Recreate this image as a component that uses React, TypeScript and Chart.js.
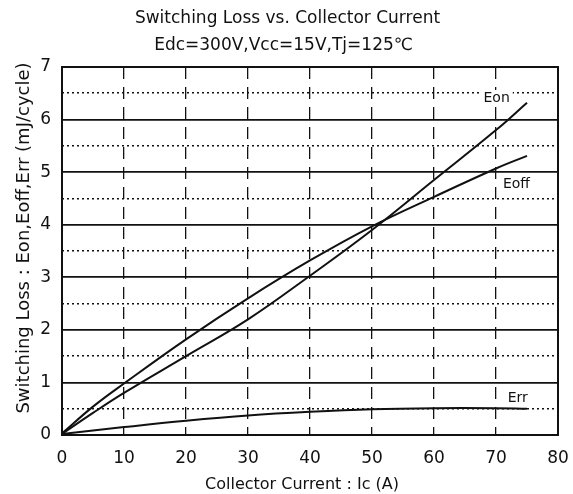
import { useEffect, useRef } from "react";
import { Chart, registerables } from "chart.js";

Chart.register(...registerables);

// ---- data ----
const currentA = [0, 5, 10, 20, 30, 40, 50, 60, 70, 75];
const eonValues = [0.02, 0.42, 0.8, 1.5, 2.2, 3.03, 3.9, 4.85, 5.8, 6.32];
const eoffValues = [0.03, 0.54, 0.98, 1.82, 2.6, 3.32, 3.97, 4.53, 5.07, 5.31];
const errCurrentA = [0, 10, 20, 30, 40, 50, 60, 70, 75];
const errValues = [0.02, 0.15, 0.27, 0.37, 0.44, 0.49, 0.51, 0.51, 0.5];

const xTickValues = [0, 10, 20, 30, 40, 50, 60, 70, 80];
const yTickValues = [0, 1, 2, 3, 4, 5, 6, 7];

const titleLines = ["Switching Loss vs. Collector Current", "Edc=300V,Vcc=15V,Tj=125\u2103"];
const xTitle = "Collector Current : Ic (A)";
const yTitle = "Switching Loss : Eon,Eoff,Err (mJ/cycle)";

const curveNames = ["Eon", "Eoff", "Err"];
const curveLabelAt = [
  { x: 70.1, y: 6.41 },
  { x: 73.3, y: 4.76 },
  { x: 73.5, y: 0.7 },
];

const FONT = '"DejaVu Sans", sans-serif';
const INK = "#111111";

const toPoints = (xs: number[], ys: number[]) => xs.map((x, i) => ({ x, y: ys[i] }));

const overlayPlugin = {
  id: "overlay",
  afterDatasetsDraw(chart: any) {
    const { ctx, chartArea: a, scales } = chart;
    ctx.save();
    // frame
    ctx.strokeStyle = INK;
    ctx.lineWidth = 2;
    ctx.setLineDash([]);
    ctx.strokeRect(a.left, a.top, a.right - a.left, a.bottom - a.top);
    // curve labels
    ctx.font = `14px ${FONT}`;
    ctx.textAlign = "center";
    ctx.textBaseline = "middle";
    curveNames.forEach((name, i) => {
      const px = scales.x.getPixelForValue(curveLabelAt[i].x);
      const py = scales.y.getPixelForValue(curveLabelAt[i].y);
      const w = ctx.measureText(name).width;
      ctx.fillStyle = "#ffffff";
      ctx.fillRect(px - w / 2 - 3, py - 8, w + 6, 16);
      ctx.fillStyle = INK;
      ctx.fillText(name, px, py);
    });
    // titles
    ctx.font = `17px ${FONT}`;
    ctx.fillText(titleLines[0], chart.width / 2 + 1, 19);
    ctx.fillText(titleLines[1], chart.width / 2 - 3, 46);
    ctx.font = `16px ${FONT}`;
    ctx.fillText(xTitle, 302, 485);
    ctx.save();
    ctx.translate(24, 238);
    ctx.rotate(-Math.PI / 2);
    ctx.font = `18px ${FONT}`;
    ctx.fillText(yTitle, 0, 0);
    ctx.restore();
    ctx.restore();
  },
};

export default function App() {
  const canvasRef = useRef<HTMLCanvasElement | null>(null);

  useEffect(() => {
    document.body.style.margin = "0";
    const canvas = canvasRef.current;
    if (!canvas) return;
    const lineStyle = {
      borderColor: INK,
      borderWidth: 2,
      pointRadius: 0,
      fill: false,
      tension: 0.4,
    };
    const chart = new Chart(canvas, {
      type: "line",
      data: {
        datasets: [
          { label: curveNames[0], data: toPoints(currentA, eonValues), ...lineStyle },
          { label: curveNames[1], data: toPoints(currentA, eoffValues), ...lineStyle },
          { label: curveNames[2], data: toPoints(errCurrentA, errValues), ...lineStyle },
        ],
      },
      options: {
        animation: false,
        responsive: false,
        layout: { padding: { left: 0, top: 67, right: 15, bottom: 0 } },
        plugins: { legend: { display: false }, tooltip: { enabled: false }, title: { display: false } },
        scales: {
          x: {
            type: "linear",
            min: 0,
            max: 80,
            afterFit: (s: any) => {
              s.height = 59;
              s.paddingLeft = 0;
              s.paddingRight = 0;
            },
            afterBuildTicks: (s: any) => {
              s.ticks = xTickValues.map((v) => ({ value: v }));
            },
            ticks: {
              color: INK,
              font: { family: FONT, size: 17 },
              padding: 13,
              maxRotation: 0,
              autoSkip: false,
              callback: (v: any) => String(v),
            },
            grid: {
              drawTicks: false,
              color: INK,
              lineWidth: 1.3,
            },
            border: {
              display: false,
              dash: (c: any) => (c.tick && c.tick.value > 0 && c.tick.value < 80 ? [12, 8] : []),
            },
          },
          y: {
            type: "linear",
            min: 0,
            max: 7,
            afterFit: (s: any) => {
              s.width = 62;
              s.paddingTop = 0;
              s.paddingBottom = 0;
            },
            ticks: {
              stepSize: 0.5,
              color: INK,
              font: { family: FONT, size: 17 },
              padding: 11,
              autoSkip: false,
              callback: (v: any) => (yTickValues.includes(Number(v)) ? String(v) : ""),
            },
            grid: {
              drawTicks: false,
              color: INK,
              lineWidth: (c: any) => (c.tick && Number.isInteger(c.tick.value) ? 1.8 : 1.6),
            },
            border: {
              display: false,
              dash: (c: any) => (c.tick && !Number.isInteger(c.tick.value) ? [2, 3] : []),
            },
          },
        },
      },
      plugins: [overlayPlugin],
    });
    return () => chart.destroy();
  }, []);

  return <canvas ref={canvasRef} width={573} height={494} style={{ display: "block" }} />;
}
